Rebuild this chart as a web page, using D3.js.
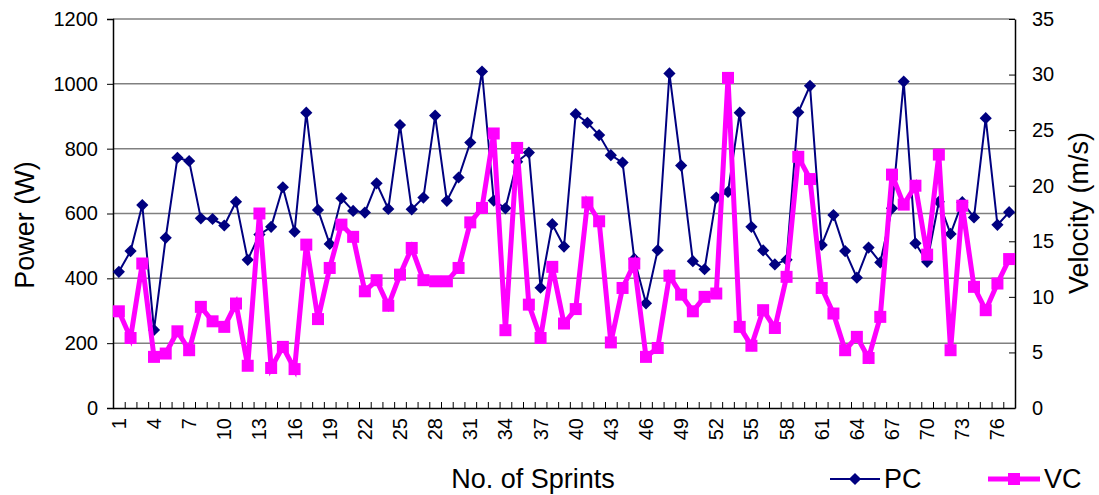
<!DOCTYPE html>
<html>
<head>
<meta charset="utf-8">
<script src="https://cdn.jsdelivr.net/npm/d3@7"></script>
<style>
  body { margin: 0; background: #fff; }
  text { font-family: Arial, "Liberation Sans", sans-serif; fill: #000; }
</style>
</head>
<body>
<svg id="chart" width="1099" height="495"></svg>
<script>
// sprint numbers 1..77
var sprints = d3.range(1, 78)
// power (W), left axis
var pc = [420, 484, 626, 241, 525, 772, 762, 585, 583, 563,
          636, 457, 535, 559, 681, 544, 911, 611, 506, 647,
          608, 603, 693, 614, 873, 613, 649, 902, 639, 711,
          819, 1038, 640, 616, 760, 788, 371, 567, 498, 907,
          880, 842, 780, 757, 460, 323, 487, 1032, 748, 453,
          428, 649, 667, 911, 559, 486, 443, 457, 912, 994,
          503, 595, 484, 402, 495, 449, 616, 1007, 508, 451,
          636, 537, 635, 588, 894, 565, 604]
// velocity (m/s), right axis
var vc = [8.7, 6.3, 13.0, 4.6, 4.9, 6.9, 5.2, 9.1, 7.8, 7.3,
          9.4, 3.8, 17.5, 3.6, 5.5, 3.5, 14.7, 8.0, 12.6, 16.5,
          15.4, 10.5, 11.5, 9.2, 12.0, 14.4, 11.5, 11.4, 11.4, 12.6,
          16.7, 18.0, 24.7, 7.0, 23.4, 9.3, 6.3, 12.7, 7.6, 8.9,
          18.5, 16.8, 5.9, 10.8, 13.0, 4.6, 5.4, 11.9, 10.2, 8.7,
          10.0, 10.3, 29.7, 7.3, 5.6, 8.8, 7.2, 11.8, 22.6, 20.6,
          10.8, 8.5, 5.2, 6.4, 4.5, 8.2, 21.0, 18.3, 20.0, 13.8,
          22.8, 5.2, 18.2, 10.9, 8.8, 11.2, 13.4]
var powerTicks = [0, 200, 400, 600, 800, 1000, 1200]
var velocityTicks = [0, 5, 10, 15, 20, 25, 30, 35]
var xLabels = sprints.filter(function(d){ return (d - 1) % 3 == 0 })

var plotLeft = 113, plotRight = 1015, plotTop = 19, plotBottom = 408
var svg = d3.select("#chart")

var x = d3.scaleBand().domain(sprints).range([plotLeft, plotRight])
var yP = d3.scaleLinear().domain([0, 1200]).range([plotBottom, plotTop])
var yV = d3.scaleLinear().domain([0, 35]).range([plotBottom, plotTop])
var cx = function(d){ return x(d) + x.bandwidth()/2 }

// gridlines
svg.append("g").selectAll("line")
  .data(powerTicks.slice(1))
  .enter().append("line")
  .attr("x1", plotLeft).attr("x2", plotRight)
  .attr("y1", function(d){ return yP(d) }).attr("y2", function(d){ return yP(d) })
  .style("stroke", "#808080").style("stroke-width", 1.5)

// left axis
var gl = svg.append("g").attr("transform", "translate(" + plotLeft + ",0)")
  .call(d3.axisLeft(yP).tickValues(powerTicks).tickFormat(d3.format("d")).tickSize(6).tickPadding(9))
gl.selectAll("text").style("font-size", "20px").style("font-family", "Arial, 'Liberation Sans'")

// right axis (ticks point inward)
var gr = svg.append("g").attr("transform", "translate(" + plotRight + ",0)")
  .call(d3.axisRight(yV).tickValues(velocityTicks).tickFormat(d3.format("d")).tickSizeInner(-6).tickSizeOuter(0).tickPadding(17))
gr.selectAll("text").style("font-size", "20px").style("font-family", "Arial, 'Liberation Sans'")

// bottom axis: ticks between categories, labels every third sprint
var xb = d3.scaleLinear().domain([0, 77]).range([plotLeft, plotRight])
svg.append("g").attr("transform", "translate(0," + plotBottom + ")")
  .call(d3.axisBottom(xb).tickValues(d3.range(0, 78)).tickSize(-6).tickSizeOuter(0).tickFormat(""))
svg.append("g").selectAll("text")
  .data(xLabels)
  .enter().append("text")
  .attr("transform", function(d){ return "translate(" + (cx(d) + 7) + ",418) rotate(-90)" })
  .attr("text-anchor", "end")
  .style("font-size", "20px")
  .text(function(d){ return d })

svg.selectAll(".domain").style("stroke", "#000").style("stroke-width", 1.5)
svg.selectAll(".tick line").style("stroke", "#000")

// PC line
svg.append("path")
  .datum(sprints)
  .attr("d", d3.line().x(cx).y(function(d, i){ return yP(pc[i]) }))
  .style("fill", "none").style("stroke", "#000080").style("stroke-width", 2)
svg.append("g").selectAll("path")
  .data(sprints)
  .enter().append("path")
  .attr("d", d3.symbol().type(d3.symbolDiamond2).size(95))
  .attr("transform", function(d, i){ return "translate(" + cx(d) + "," + yP(pc[i]) + ")" })
  .style("fill", "#000080")

// VC line
svg.append("path")
  .datum(sprints)
  .attr("d", d3.line().x(cx).y(function(d, i){ return yV(vc[i]) }))
  .style("fill", "none").style("stroke", "#ff00ff").style("stroke-width", 5)
svg.append("g").selectAll("rect")
  .data(sprints)
  .enter().append("rect")
  .attr("x", function(d){ return cx(d) - 6 })
  .attr("y", function(d, i){ return yV(vc[i]) - 6 })
  .attr("width", 12).attr("height", 12)
  .style("fill", "#ff00ff")

// axis titles
svg.append("text")
  .attr("transform", "translate(34,225) rotate(-90)")
  .attr("text-anchor", "middle")
  .style("font-size", "27px")
  .text("Power (W)")
svg.append("text")
  .attr("transform", "translate(1088,213) rotate(-90)")
  .attr("text-anchor", "middle")
  .style("font-size", "27px")
  .text("Velocity (m/s)")
svg.append("text")
  .attr("x", 533).attr("y", 488)
  .attr("text-anchor", "middle")
  .style("font-size", "27px")
  .text("No. of Sprints")

// legend
var legend = svg.append("g")
legend.append("line").attr("x1", 830).attr("x2", 880).attr("y1", 479).attr("y2", 479)
  .style("stroke", "#000080").style("stroke-width", 2)
legend.append("path").attr("d", d3.symbol().type(d3.symbolDiamond2).size(95))
  .attr("transform", "translate(855,479)").style("fill", "#000080")
legend.append("text").attr("x", 884).attr("y", 488).style("font-size", "27px").text("PC")
legend.append("line").attr("x1", 988).attr("x2", 1040).attr("y1", 479).attr("y2", 479)
  .style("stroke", "#ff00ff").style("stroke-width", 5)
legend.append("rect").attr("x", 1008).attr("y", 473).attr("width", 12).attr("height", 12)
  .style("fill", "#ff00ff")
legend.append("text").attr("x", 1044).attr("y", 488).style("font-size", "27px").text("VC")
</script>
</body>
</html>
